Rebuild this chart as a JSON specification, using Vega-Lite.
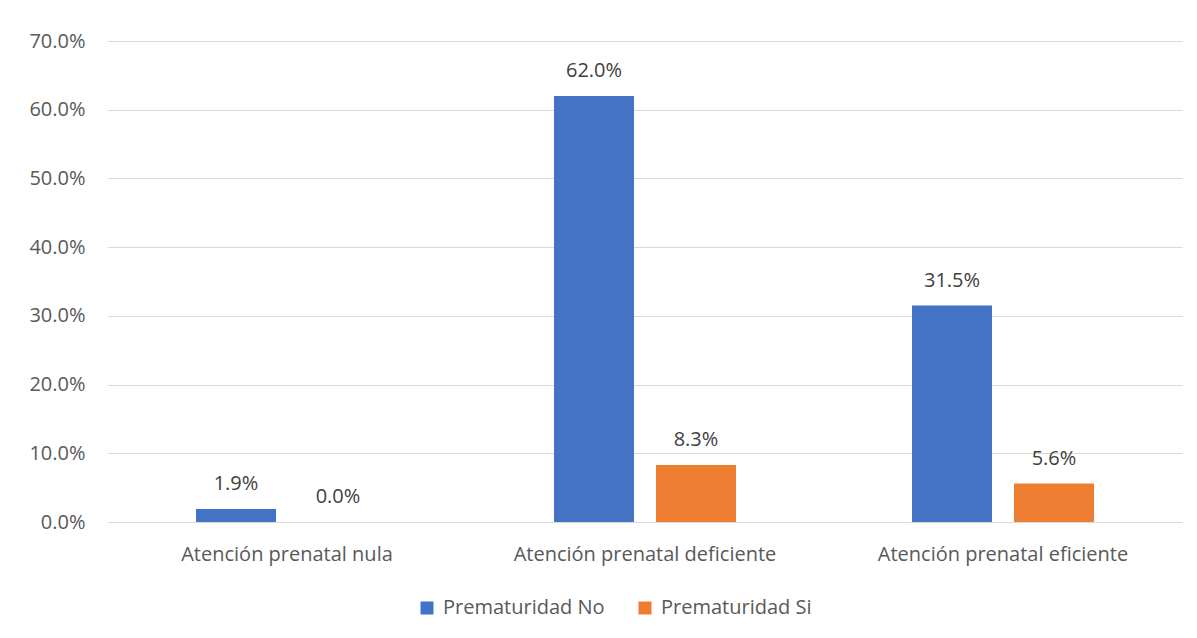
{
  "$schema": "https://vega.github.io/schema/vega-lite/v6.json",
  "width": 1074,
  "height": 481,
  "autosize": {"type": "none"},
  "padding": {"left": 108, "top": 41, "right": 15, "bottom": 116},
  "background": "white",
  "config": {
    "view": {"stroke": null},
    "font": "Open Sans",
    "axis": {"labelColor": "#595959", "labelFont": "Open Sans", "labelFontSize": 20, "labelLimit": 0},
    "legend": {"labelColor": "#595959", "labelFont": "Open Sans", "labelFontSize": 20, "labelLimit": 0}
  },
  "data": {
    "values": [
      {"categoria": "Atención prenatal nula", "serie": "Prematuridad No", "valor": 0.019},
      {"categoria": "Atención prenatal nula", "serie": "Prematuridad Si", "valor": 0.0},
      {"categoria": "Atención prenatal deficiente", "serie": "Prematuridad No", "valor": 0.62},
      {"categoria": "Atención prenatal deficiente", "serie": "Prematuridad Si", "valor": 0.083},
      {"categoria": "Atención prenatal eficiente", "serie": "Prematuridad No", "valor": 0.315},
      {"categoria": "Atención prenatal eficiente", "serie": "Prematuridad Si", "valor": 0.056}
    ]
  },
  "encoding": {
    "x": {
      "field": "categoria",
      "type": "nominal",
      "sort": null,
      "scale": {"paddingInner": 0, "paddingOuter": 0},
      "axis": {"title": null, "labelAngle": 0, "domain": false, "ticks": false, "labelPadding": 22, "grid": false, "labelLimit": 0}
    },
    "xOffset": {
      "field": "serie",
      "type": "nominal",
      "scale": {"paddingInner": 0.2157, "paddingOuter": 0.8627}
    },
    "y": {
      "field": "valor",
      "type": "quantitative",
      "scale": {"domain": [0, 0.7], "nice": false},
      "axis": {
        "title": null,
        "format": ".1%",
        "values": [0, 0.1, 0.2, 0.3, 0.4, 0.5, 0.6, 0.7],
        "domain": false,
        "ticks": false,
        "labelPadding": 23,
        "gridColor": "#D9D9D9",
        "gridWidth": 1
      }
    }
  },
  "layer": [
    {
      "mark": {"type": "bar"},
      "encoding": {
        "color": {
          "field": "serie",
          "type": "nominal",
          "scale": {"domain": ["Prematuridad No", "Prematuridad Si"], "range": ["#4472C4", "#ED7D31"]},
          "legend": {
            "title": null,
            "orient": "none",
            "direction": "horizontal",
            "legendX": 309,
            "legendY": 557,
            "symbolType": "square",
            "symbolSize": 169,
            "symbolStrokeWidth": 0,
            "labelOffset": 6,
            "columnPadding": 30
          }
        }
      }
    },
    {
      "mark": {"type": "text", "baseline": "middle", "dy": -25, "fontSize": 20, "color": "#404040", "font": "Open Sans"},
      "encoding": {
        "text": {"field": "valor", "type": "quantitative", "format": ".1%"}
      }
    }
  ]
}
